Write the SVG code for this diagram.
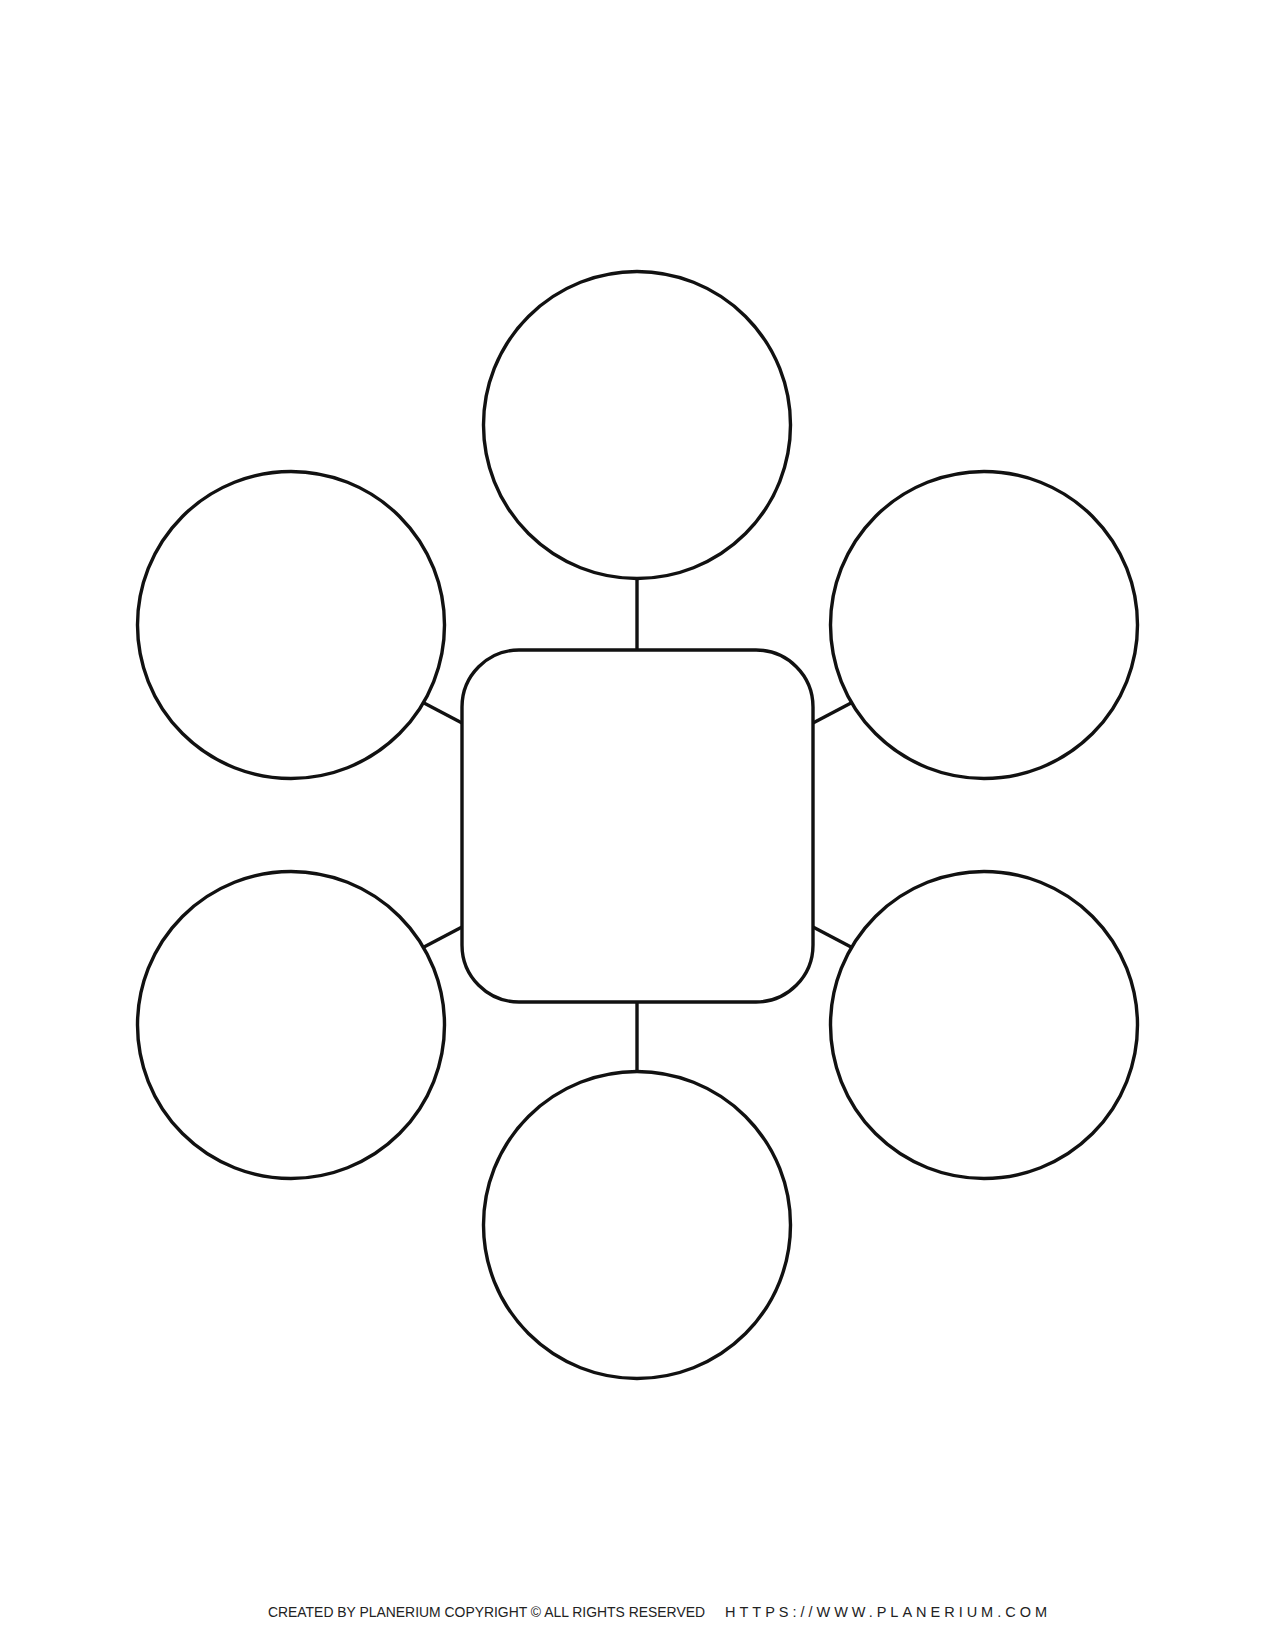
<svg xmlns="http://www.w3.org/2000/svg" width="1275" height="1650" viewBox="0 0 1275 1650">
<style>
.n{fill:#fff;stroke:#111;stroke-width:3.4}
.c line{stroke:#111;stroke-width:3.4}
.t{font-family:"Liberation Sans",Arial,sans-serif;font-size:14.5px;fill:#222}
</style>
<rect width="1275" height="1650" fill="#fff"/>
<g class="c" id="connectors">
<line x1="637" y1="578" x2="637" y2="650"/>
<line x1="637" y1="1002" x2="637" y2="1072"/>
<line x1="424" y1="703" x2="462" y2="723"/>
<line x1="851" y1="703" x2="813" y2="723"/>
<line x1="424" y1="947" x2="462" y2="927"/>
<line x1="851" y1="947" x2="813" y2="927"/>
</g>
<g id="center"><rect class="n" x="462" y="650" width="351" height="352" rx="57" ry="57"/></g>
<g id="top"><circle class="n" cx="637" cy="425" r="153.5"/></g>
<g id="bottom"><circle class="n" cx="637" cy="1225" r="153.5"/></g>
<g id="upper-left"><circle class="n" cx="291" cy="625" r="153.5"/></g>
<g id="upper-right"><circle class="n" cx="984" cy="625" r="153.5"/></g>
<g id="lower-left"><circle class="n" cx="291" cy="1025" r="153.5"/></g>
<g id="lower-right"><circle class="n" cx="984" cy="1025" r="153.5"/></g>
<g id="footer">
<text class="t" x="268" y="1617" textLength="437" lengthAdjust="spacingAndGlyphs">CREATED BY PLANERIUM COPYRIGHT © ALL RIGHTS RESERVED</text>
<text class="t" x="725" y="1617" textLength="322" lengthAdjust="spacing">HTTPS://WWW.PLANERIUM.COM</text>
</g>
</svg>
